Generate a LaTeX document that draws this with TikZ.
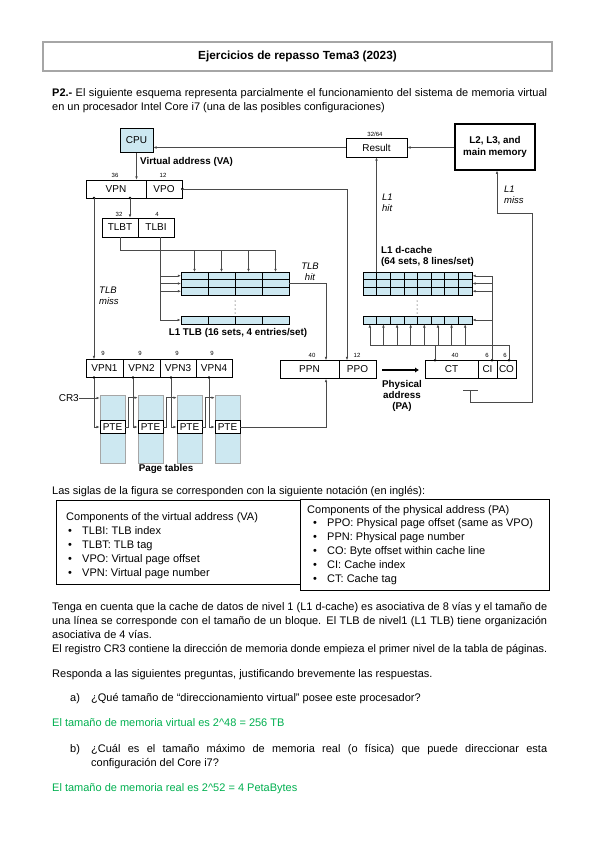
\documentclass[tikz,border=0pt]{standalone}
\usepackage{fontspec}
\usepackage{graphicx}
\setmainfont{Liberation Sans}
\usetikzlibrary{arrows.meta}
\definecolor{cellblue}{HTML}{CDE8F1}
\definecolor{wirec}{HTML}{4A4A4A}
\definecolor{ansgreen}{HTML}{00B050}
\newsavebox\flbox
\newcommand{\fitline}[2]{\sbox\flbox{#2}\ifdim\wd\flbox>#1\relax\resizebox{#1}{\ht\flbox}{\usebox\flbox}\else\makebox[#1][s]{#2}\fi}
\begin{document}
\begin{tikzpicture}[x=1pt,y=-1pt,
  box/.style={draw=black,line width=0.7pt,fill=white,inner sep=0pt,font=\fontsize{10}{12}\selectfont},
  bbox/.style={box,fill=cellblue},
  num/.style={inner sep=0pt,font=\fontsize{6}{7}\selectfont},
  blab/.style={inner sep=0pt,font=\bfseries\fontsize{9.8}{11}\selectfont,align=center},
  ilab/.style={inner sep=0pt,font=\itshape\fontsize{9.5}{11}\selectfont},
  wire/.style={draw=wirec,line width=0.6pt},
  arr/.style={wire,-{Latex[length=3.2pt,width=2.6pt]}},
  gline/.style={draw=black,line width=0.6pt},
  txt/.style={inner sep=0pt,anchor=base west,font=\fontsize{11}{14}\selectfont},
  ptab/.style={draw=gray!70,line width=0.6pt,fill=cellblue,minimum width=25pt,minimum height=68pt,inner sep=0pt},
  ptebox/.style={box,minimum width=25pt,minimum height=13pt},
  cell/.style={draw=black,line width=0.6pt,inner sep=0pt}
]
\useasboundingbox[fill=white] (0,0) rectangle (599,848);

% ---------- title and intro ----------
\node[draw=gray!70, line width=1.4pt, minimum width=509pt, minimum height=29pt, inner sep=0pt,
      font=\bfseries\fontsize{11.8}{14}\selectfont] (title) at (297.5,56.5) {Ejercicios de repasso Tema3 (2023)};
\node[txt] (p2a) at (52,97) {\fitline{495pt}{\textbf{P2.-} El siguiente esquema representa parcialmente el funcionamiento del sistema de memoria virtual}};
\node[txt] (p2b) at (52,111) {en un procesador Intel Core i7 (una de las posibles configuraciones)};

% ---------- top boxes ----------
\node[bbox, minimum width=33pt, minimum height=24pt] (cpu) at (136.5,140.5) {CPU};
\node[box, minimum width=61pt, minimum height=19pt] (result) at (376.5,147.5) {Result};
\node[box, line width=1.2pt, minimum width=80pt, minimum height=46pt, align=center,
      font=\bfseries\fontsize{9.8}{11.5}\selectfont] (mem) at (495,147) {L2, L3, and\\main memory};
\node[num] (n3264) at (375,134) {32/64};

\node[blab, anchor=west] (valab) at (140,162) {Virtual address (VA)};

\node[box, minimum width=60pt, minimum height=18pt] (vpn) at (116,189) {VPN};
\node[box, minimum width=36pt, minimum height=18pt] (vpo) at (164,189) {VPO};
\node[num] (n36) at (115,175) {36};
\node[num] (n12a) at (163,175) {12};

\node[box, minimum width=36pt, minimum height=19pt] (tlbt) at (120,227.5) {TLBT};
\node[box, minimum width=36pt, minimum height=19pt] (tlbi) at (156,227.5) {TLBI};
\node[num] (n32) at (119,214) {32};
\node[num] (n4) at (157,214) {4};

% ---------- TLB array ----------
\node[cell, fill=cellblue, minimum width=108pt, minimum height=23pt] (tlbset) at (235,283.5) {};
\foreach \x in {208,235,262} \draw[gline] (\x,272) -- (\x,295);
\foreach \y in {279.67,287.33} \draw[gline] (181,\y) -- (289,\y);
\node[cell, fill=cellblue, minimum width=108pt, minimum height=8pt] (tlblast) at (235,320) {};
\foreach \x in {208,235,262} \draw[gline] (\x,316) -- (\x,324);
\foreach \y in {301,305,309,313} \fill (235,\y) circle (0.5);
\node[blab] (tlblab) at (238,333) {L1 TLB (16 sets, 4 entries/set)};

% ---------- cache array ----------
\node[cell, fill=cellblue, minimum width=109pt, minimum height=23pt] (cacheset) at (417.5,283.5) {};
\foreach \k in {1,...,7} \draw[gline] (363+13.625*\k,272) -- (363+13.625*\k,295);
\foreach \y in {279.67,287.33} \draw[gline] (363,\y) -- (472,\y);
\node[cell, fill=cellblue, minimum width=109pt, minimum height=8pt] (cachelast) at (417.5,320) {};
\foreach \k in {1,...,7} \draw[gline] (363+13.625*\k,316) -- (363+13.625*\k,324);
\foreach \y in {301,305,309,313} \fill (417,\y) circle (0.5);
\node[blab, anchor=north west, align=left] (cachelab) at (381,246) {L1 d-cache\\(64 sets, 8 lines/set)};

% ---------- VPN1..4, PPN/PPO, CT/CI/CO ----------
\node[box, minimum width=37pt, minimum height=18pt] (vpna) at (104.5,368.5) {VPN1};
\node[box, minimum width=37pt, minimum height=18pt] (vpnb) at (141.5,368.5) {VPN2};
\node[box, minimum width=36pt, minimum height=18pt] (vpnc) at (178,368.5) {VPN3};
\node[box, minimum width=36pt, minimum height=18pt] (vpnd) at (214,368.5) {VPN4};
\foreach \x/\n in {103/a,140/b,177/c,212/d} \node[num] (nine\n) at (\x,353) {9};

\node[box, minimum width=59pt, minimum height=18pt] (ppn) at (309.5,369.5) {PPN};
\node[box, minimum width=37pt, minimum height=18pt] (ppo) at (357.5,369.5) {PPO};
\node[num] (n40a) at (312,355) {40};
\node[num] (n12b) at (357,355) {12};

\node[box, minimum width=53pt, minimum height=18pt] (ct) at (451.5,369.5) {CT};
\node[box, minimum width=19pt, minimum height=18pt] (ci) at (487.5,369.5) {CI};
\node[box, minimum width=19pt, minimum height=18pt] (co) at (506.5,369.5) {CO};
\node[num] (n40b) at (455,355) {40};
\node[num] (n6a) at (487,355) {6};
\node[num] (n6b) at (505,355) {6};

\node[blab, font=\bfseries\fontsize{9.8}{11}\selectfont] (palab) at (402,396) {Physical\\address\\(PA)};
\coordinate (pas) at (382,370);
\coordinate (pae) at (419,370);
\draw[line width=2.2pt, -{Latex[length=4pt,width=5.5pt]}] (pas) -- (pae);

% ---------- page tables ----------
\foreach \i/\x in {1/112.5,2/150.5,3/189.5,4/227.5} {
  \node[ptab] (pt\i) at (\x,429) {};
  \node[ptebox] (pte\i) at (\x,427) {PTE};
}
\node[blab] (ptlab) at (166,469) {Page tables};
\node[inner sep=0pt, anchor=east, font=\fontsize{10}{12}\selectfont] (cr3) at (79,398) {CR3};

% ---------- italic labels ----------
\node[ilab, align=center] (tlbhit) at (310,271.5) {TLB\\hit};
\node[ilab, align=left, anchor=west] (tlbmiss) at (99,296) {TLB\\miss};
\node[ilab, align=left, anchor=west] (l1hit) at (382,202.5) {L1\\hit};
\node[ilab, align=left, anchor=west] (l1miss) at (504,195) {L1\\miss};

% ---------- wires ----------
\draw[arr] (cpu.south) -- (cpu.south |- vpn.north);
\draw[arr] (result.west) -- (cpu.east |- result.west);
\draw[arr] (mem.west |- result.east) -- (result.east);

\coordinate (d1) at (94,198);
\coordinate (d2) at (130,198);
\fill (d1) circle (1.4);
\fill (d2) circle (1.4);
\draw[arr] (d1) -- (d1 |- vpna.north);
\draw[arr] (d2) -- (d2 |- tlbt.north);
\fill (vpo.east) circle (1.4);
\draw[arr] (vpo.east) -| ([xshift=-10.5pt]ppo.north);

% TLBT fan-out
\coordinate (tb) at (120,250);
\draw[wire] (tlbt.south) -- (tb) -- (275.5,250);
\foreach \x in {194.5,221.5,248.5,275.5} \draw[arr] (\x,250) -- (\x,272);
% TLBI fan-out
\draw[arr] ([xshift=4pt]tlbi.south) |- (tlblast.west);
\foreach \y in {275.8,283.5,291.2} \draw[arr] (160,\y) -- (181,\y);
% TLB hit
\draw[arr] (tlbset.east) -| ([xshift=16.5pt]ppn.north);

% cache wiring
\coordinate (cidot) at ([xshift=4.5pt]ci.north);
\coordinate (ctdot) at ([xshift=-16.5pt]ct.north);
\coordinate (codot) at ([xshift=2.5pt]co.north);
\fill (cidot) circle (1.4);
\fill (ctdot) circle (1.4);
\fill (codot) circle (1.4);
\draw[wire] (cidot) -- (cidot |- 0,275.8);
\foreach \y in {275.8,283.5,291.2,320} \draw[arr] (492,\y) -- (472.5,\y);
\draw[wire] (ctdot) -- (ctdot |- 0,345);
\draw[wire] (codot) -- (codot |- 0,345) -- (369.8,345);
\foreach \k in {0,...,7} \draw[arr] (369.8+13.625*\k,345) -- (369.8+13.625*\k,324.3);
% L1 hit
\draw[arr] (result.south |- cacheset.north) -- (result.south);
% L1 miss
\coordinate (cmp) at (470,390);
\draw[wire] (463,390) -- (478,390);
\draw[arr] (cmp) -- (470,402) -- (532,402) -- (532,213) -- (497,213) -- ([xshift=2pt]mem.south);

% page table wiring
\draw[arr] (cr3.east) -- (cr3.east -| pt1.west);
\foreach \i/\x in {1/94,2/133,3/171,4/209} {
  \coordinate (vd\i) at (\x,377.5);
  \fill (vd\i) circle (1.4);
  \draw[arr] (vd\i) |- (pte\i.west);
}
\draw[arr] (pte1.east) -- ++(3,0) |- ([yshift=-3pt]pt2.north west);
\draw[arr] (pte2.east) -- ++(3,0) |- ([yshift=-3pt]pt3.north west);
\draw[arr] (pte3.east) -- ++(3,0) |- ([yshift=-3pt]pt4.north west);
\draw[arr] (pte4.east) -| ([xshift=16.5pt]ppn.south);

% ---------- notation table ----------
\node[txt] (siglas) at (52,494) {Las siglas de la figura se corresponden con la siguiente notación (en inglés):};
\node[cell, minimum width=244pt, minimum height=84pt] (cellL) at (178,542) {};
\node[cell, minimum width=249pt, minimum height=91pt] (cellR) at (424.5,544.5) {};
\node[txt] (hL) at (66,520.5) {Components of the virtual address (VA)};
\foreach \y/\t [count=\i] in {534.5/{TLBI: TLB index},548.5/{TLBT: TLB tag},562.5/{VPO: Virtual page offset},576.5/{VPN: Virtual page number}} {
  \node[txt] (bl\i) at (68,\y) {•};
  \node[txt] (il\i) at (82,\y) {\t};
}
\node[txt] (hR) at (307,513.5) {Components of the physical address (PA)};
\foreach \y/\t [count=\i] in {526.5/{PPO: Physical page offset (same as VPO)},540.5/{PPN: Physical page number},554.5/{CO: Byte offset within cache line},568.5/{CI: Cache index},582.5/{CT: Cache tag}} {
  \node[txt] (br\i) at (313,\y) {•};
  \node[txt] (ir\i) at (327,\y) {\t};
}

% ---------- lower text ----------
\node[txt] (t1) at (52,610) {\fitline{495pt}{Tenga en cuenta que la cache de datos de nivel 1 (L1 d-cache) es asociativa de 8 vías y el tamaño de}};
\node[txt] (t2) at (52,624) {\fitline{495pt}{una línea se corresponde con el tamaño de un bloque. El TLB de nivel1 (L1 TLB) tiene organización}};
\node[txt] (t3) at (52,638) {asociativa de 4 vías.};
\node[txt] (t4) at (52,652) {\fitline{495pt}{El registro CR3 contiene la dirección de memoria donde empieza el primer nivel de la tabla de páginas.}};
\node[txt] (t5) at (52,677) {Responda a las siguientes preguntas, justificando brevemente las respuestas.};
\node[txt] (qa) at (70,701) {a)};
\node[txt] (qat) at (91,701) {¿Qué tamaño de “direccionamiento virtual” posee este procesador?};
\node[txt, text=ansgreen] (ansa) at (52,726) {El tamaño de memoria virtual es 2\textasciicircum 48 = 256 TB};
\node[txt] (qb) at (70,752) {b)};
\node[txt] (qbt) at (91,752) {\fitline{456pt}{¿Cuál es el tamaño máximo de memoria real (o física) que puede direccionar esta}};
\node[txt] (qbt2) at (91,766) {configuración del Core i7?};
\node[txt, text=ansgreen] (ansb) at (52,791) {El tamaño de memoria real es 2\textasciicircum 52 = 4 PetaBytes};
\end{tikzpicture}
\end{document}
